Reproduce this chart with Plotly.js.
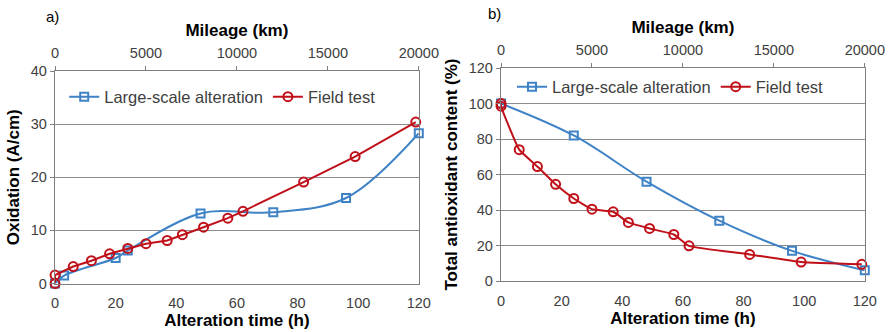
<!DOCTYPE html>
<html>
<head>
<meta charset="utf-8">
<script src="https://cdn.plot.ly/plotly-3.0.1.min.js"></script>
<style>html,body{margin:0;padding:0;background:#fff;}#chart{width:892px;height:332px;}</style>
</head>
<body>
<div id="chart"></div>
<script>
// Chart a) Oxidation
const largeScaleTimeA = [0, 3, 20, 24, 48, 72, 96, 120];
const largeScaleOxidation = [0, 1.5, 4.8, 6.2, 13.2, 13.4, 16.1, 28.3];
const fieldTimeA = [0, 0, 6, 12, 18, 24, 30, 37, 42, 49, 57, 62, 82, 99, 119];
const fieldOxidation = [0, 1.6, 3.2, 4.3, 5.6, 6.6, 7.5, 8.1, 9.2, 10.6, 12.3, 13.6, 19.1, 23.9, 30.4];
// Chart b) Total antioxidant content
const largeScaleTimeB = [0, 24, 48, 72, 96, 120];
const largeScaleAntiox = [100, 82, 56, 34, 17, 6];
const fieldTimeB = [0, 0, 6, 12, 18, 24, 30, 37, 42, 49, 57, 62, 82, 99, 119];
const fieldAntiox = [100, 98.5, 74, 64.5, 54.5, 46.5, 40.5, 39, 33, 29.6, 26.2, 19.8, 15, 10.7, 9.4];
// axis ticks
const timeTicks = [0, 20, 40, 60, 80, 100, 120];
const mileageTicks = [0, 5000, 10000, 15000, 20000];
const oxTicks = [0, 10, 20, 30, 40];
const antioxTicks = [0, 20, 40, 60, 80, 100, 120];
const seriesNames = ["Large-scale alteration", "Field test"];

const BLUE = "#3f83c6", RED = "#c0101a";
const FONT = "Liberation Sans, Arial, sans-serif";
const tickFont = {family: FONT, size: 14.5, color: "#404040"};
const titleFont = {family: FONT, size: 17, color: "#000", weight: "bold"};

const blueMarker = {symbol: "square-open", size: 8, color: BLUE, line: {width: 2, color: BLUE}};
const redMarker = {symbol: "circle-open", size: 9, color: RED, line: {width: 2, color: RED}};

const traces = [
  {x: largeScaleTimeA, y: largeScaleOxidation, xaxis: "x", yaxis: "y", name: seriesNames[0], mode: "lines+markers",
   line: {color: BLUE, width: 2, shape: "spline", smoothing: 1}, marker: blueMarker, legend: "legend", cliponaxis: false},
  {x: fieldTimeA, y: fieldOxidation, xaxis: "x", yaxis: "y", name: seriesNames[1], mode: "lines+markers",
   line: {color: RED, width: 2}, marker: redMarker, legend: "legend", cliponaxis: false},
  {x: largeScaleTimeB, y: largeScaleAntiox, xaxis: "x2", yaxis: "y2", name: seriesNames[0], mode: "lines+markers",
   line: {color: BLUE, width: 2, shape: "spline", smoothing: 1}, marker: blueMarker, legend: "legend2", cliponaxis: false},
  {x: fieldTimeB, y: fieldAntiox, xaxis: "x2", yaxis: "y2", name: seriesNames[1], mode: "lines+markers",
   line: {color: RED, width: 2, shape: "spline", smoothing: 0.4}, marker: redMarker, legend: "legend2", cliponaxis: false},
  // invisible carriers for the mileage axes
  {x: [mileageTicks[0], mileageTicks[mileageTicks.length-1]], y: [0, 0], xaxis: "x3", yaxis: "y", mode: "markers",
   marker: {opacity: 0}, showlegend: false, hoverinfo: "skip"},
  {x: [mileageTicks[0], mileageTicks[mileageTicks.length-1]], y: [0, 0], xaxis: "x4", yaxis: "y2", mode: "markers",
   marker: {opacity: 0}, showlegend: false, hoverinfo: "skip"}
];

const AX = "#7f7f7f";
function timeAxis(domain, anchor) {
  return {domain: domain, anchor: anchor, range: [0, 120], tickvals: timeTicks, showgrid: false, zeroline: false,
    showline: true, linecolor: AX, linewidth: 1.2, ticks: "", tickfont: tickFont, ticklabelstandoff: 6,
    title: {text: "Alteration time (h)", font: titleFont, standoff: 2}, fixedrange: true};
}
function mileAxis(overlay, anchor) {
  return {overlaying: overlay, anchor: anchor, side: "top", range: [0, 20000], tickvals: mileageTicks, tickformat: "d",
    showgrid: false, zeroline: false, showline: true, linecolor: AX, linewidth: 1.2, ticks: "outside", ticklen: 4,
    tickcolor: AX, tickfont: tickFont, ticklabelstandoff: 2, title: {text: "Mileage (km)", font: titleFont, standoff: 4}};
}
function valAxis(domain, anchor, range, ticks, title, standoff) {
  return {domain: domain, anchor: anchor, range: range, tickvals: ticks, showgrid: true, gridcolor: "#8c8c8c", gridwidth: 1,
    zeroline: false, showline: true, mirror: true, linecolor: AX, linewidth: 1.2, ticks: "outside", ticklen: 4, tickcolor: AX,
    tickfont: tickFont, title: {text: title, font: titleFont, standoff: standoff}};
}

const legendFont = {family: FONT, size: 16.5, color: "#404040"};
const layout = {
  width: 892, height: 332, margin: {l: 0, r: 0, t: 0, b: 0}, paper_bgcolor: "#fff", plot_bgcolor: "#fff",
  font: {family: FONT},
  xaxis: timeAxis([0.0617, 0.4695], "y"),
  yaxis: valAxis([0.146, 0.786], "x", [0, 40], oxTicks, "Oxidation (A/cm)", 6),
  xaxis2: timeAxis([0.5617, 0.9695], "y2"),
  yaxis2: valAxis([0.1536, 0.795], "x2", [0, 120], antioxTicks, "Total antioxidant content (%)", 6),
  xaxis3: mileAxis("x", "y"),
  xaxis4: mileAxis("x2", "y2"),
  showlegend: true,
  legend: {orientation: "h", x: 0.072, y: 0.708, xanchor: "left", yanchor: "middle", bgcolor: "rgba(0,0,0,0)",
    font: legendFont, itemwidth: 30},
  legend2: {orientation: "h", x: 0.574, y: 0.738, xanchor: "left", yanchor: "middle", bgcolor: "rgba(0,0,0,0)",
    font: legendFont, itemwidth: 30},
  annotations: [
    {text: "a)", x: 52, y: 16, xref: "paper", yref: "paper", showarrow: false, font: {family: FONT, size: 15, color: "#000"}},
    {text: "b)", x: 494, y: 14, xref: "paper", yref: "paper", showarrow: false, font: {family: FONT, size: 15, color: "#000"}}
  ].map(a => Object.assign({}, a, {x: a.x / 892, y: 1 - a.y / 332, xanchor: "center", yanchor: "middle"}))
};

Plotly.newPlot("chart", traces, layout, {staticPlot: true, displayModeBar: false});
</script>
</body>
</html>
